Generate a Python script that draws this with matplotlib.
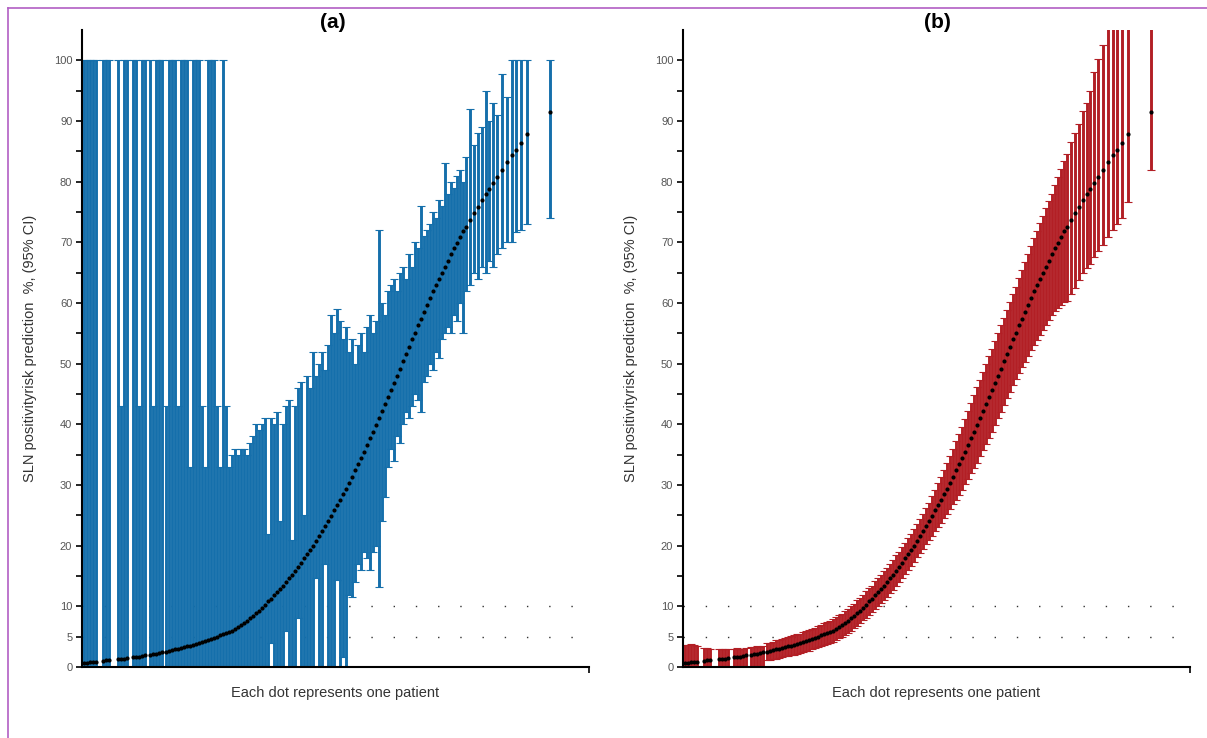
import numpy as np
import matplotlib
matplotlib.use('Agg')
import matplotlib.pyplot as plt
from matplotlib.lines import Line2D

plt.rcParams['font.family'] = ['Liberation Sans', 'DejaVu Sans']

## Data: one entry per patient, x = position along the axis (sorted by risk)
x = [2, 5, 8, 11, 14, 21, 24, 27, 36, 39,
     42, 45, 51, 54, 57, 60, 63, 68, 71, 74,
     77, 80, 84, 87, 90, 93, 96, 99, 102, 105,
     108, 111, 114, 117, 120, 123, 126, 129, 132, 135,
     138, 141, 144, 147, 150, 153, 156, 159, 162, 165,
     168, 171, 174, 177, 180, 183, 186, 189, 192, 195,
     198, 201, 204, 207, 210, 213, 216, 219, 222, 225,
     228, 231, 234, 237, 240, 243, 246, 249, 252, 255,
     258, 261, 264, 267, 270, 273, 276, 279, 282, 285,
     288, 291, 294, 297, 300, 303, 306, 309, 312, 315,
     318, 321, 324, 327, 330, 333, 336, 339, 342, 345,
     348, 351, 354, 357, 360, 363, 366, 369, 372, 375,
     378, 381, 384, 388, 392, 396, 400, 404, 407, 411,
     415, 420, 425, 430, 434, 439, 445, 468]

# predicted risk (%) - same model in both panels
pred = [0.7, 0.7, 0.8, 0.8, 0.9, 1.0, 1.1, 1.1, 1.3, 1.4,
        1.4, 1.5, 1.6, 1.7, 1.7, 1.8, 1.9, 2.0, 2.1, 2.2,
        2.3, 2.4, 2.5, 2.6, 2.8, 2.9, 3.0, 3.1, 3.3, 3.4,
        3.5, 3.6, 3.8, 3.9, 4.1, 4.3, 4.4, 4.6, 4.8, 5.0,
        5.2, 5.4, 5.6, 5.8, 6.0, 6.3, 6.6, 6.9, 7.2, 7.6,
        8.0, 8.4, 8.9, 9.3, 9.8, 10.3, 10.8, 11.2, 11.8, 12.3,
        12.8, 13.4, 14.0, 14.6, 15.2, 15.9, 16.5, 17.2, 17.9, 18.6,
        19.3, 20.0, 20.8, 21.6, 22.4, 23.2, 24.0, 24.9, 25.8, 26.7,
        27.6, 28.5, 29.4, 30.4, 31.4, 32.4, 33.4, 34.4, 35.5, 36.6,
        37.7, 38.8, 39.9, 41.0, 42.2, 43.3, 44.5, 45.6, 46.8, 48.0,
        49.2, 50.4, 51.6, 52.8, 54.0, 55.1, 56.3, 57.4, 58.5, 59.6,
        60.8, 61.9, 62.9, 64.0, 65.0, 66.0, 67.0, 68.0, 69.0, 69.9,
        70.9, 71.8, 72.6, 73.7, 74.8, 75.9, 77.0, 78.0, 78.8, 79.8,
        80.8, 82.0, 83.2, 84.4, 85.3, 86.4, 87.8, 91.5]

# panel (a) 95% CI
a_lo = [0, 0, 0, 0, 0, 0, 0, 0, 0, 0,
        0, 0, 0, 0, 0, 0, 0, 0, 0, 0,
        0, 0, 0, 0, 0, 0, 0, 0, 0, 0,
        0, 0, 0, 0, 0, 0, 0, 0, 0, 0,
        0, 0, 0, 0, 0, 0, 0, 0, 0, 0,
        0, 0, 0, 0, 0, 0, 0, 4, 0, 0,
        0, 0, 6, 0, 0, 0, 8, 0, 0, 0,
        0, 0, 14.6, 0, 0, 17, 0, 0, 0, 14.3,
        0, 1.6, 0, 11.9, 11.5, 14, 17, 16, 19, 18,
        16, 19, 20, 13.2, 24, 28, 33, 36, 34, 38,
        37, 40, 42, 41, 43, 45, 44, 42, 47, 48,
        50, 49, 52, 51, 54, 55, 56, 55, 58, 57,
        60, 55, 62, 63, 65, 64, 66, 65, 67, 66,
        68, 69, 70, 70, 71.7, 72, 73, 74]
a_hi = [100, 100, 100, 100, 100, 100, 100, 100, 100, 43,
        100, 100, 100, 100, 43, 100, 100, 100, 43, 100,
        100, 100, 43, 100, 100, 100, 43, 100, 100, 100,
        33, 100, 100, 100, 43, 33, 100, 100, 100, 43,
        33, 100, 43, 33, 35, 36, 35, 36, 36, 35,
        37, 38, 40, 39, 40, 41, 22, 41, 40, 42,
        24, 40, 43, 44, 21, 43, 46, 47, 25, 48,
        46, 52, 48, 50, 52, 49, 53, 58, 55, 59,
        57, 54, 56, 52, 54, 50, 53, 55, 52, 56,
        58, 55, 57, 72, 60, 58, 62, 63, 64, 62,
        65, 66, 64, 68, 66, 70, 69, 76, 71, 72,
        73, 75, 74, 77, 76, 83, 78, 80, 79, 81,
        82, 80, 84, 92, 86, 88, 89, 95, 90, 93,
        91, 97.8, 94, 100, 100, 100, 100, 100]

# panel (b) 95% CI
b_lo = [0, 0, 0, 0, 0, 0, 0, 0, 0, 0,
        0, 0, 0, 0, 0, 0, 0, 0, 0, 0,
        0, 0, 1.1, 1.2, 1.4, 1.4, 1.5, 1.6, 1.8, 1.8,
        1.9, 2.0, 2.2, 2.3, 2.5, 2.6, 2.7, 2.9, 3.1, 3.3,
        3.4, 3.6, 3.8, 4.0, 4.1, 4.4, 4.7, 5.0, 5.2, 5.6,
        6.0, 6.4, 6.8, 7.2, 7.7, 8.1, 8.6, 9.0, 9.5, 10.0,
        10.5, 11.0, 11.6, 12.2, 12.7, 13.4, 14.0, 14.6, 15.3, 16.0,
        16.6, 17.3, 18.1, 18.8, 19.5, 20.2, 20.9, 21.6, 22.4, 23.1,
        23.8, 24.5, 25.2, 26.0, 26.8, 27.6, 28.4, 29.2, 30.1, 31.0,
        31.9, 32.8, 33.7, 34.7, 35.7, 36.7, 37.8, 38.8, 39.9, 41.0,
        42.1, 43.2, 44.3, 45.4, 46.5, 47.5, 48.5, 49.4, 50.3, 51.2,
        52.2, 53.1, 53.9, 54.8, 55.6, 56.4, 57.2, 58.0, 58.6, 59.1,
        59.7, 60.2, 60.3, 61.5, 62.5, 63.8, 64.9, 65.8, 66.5, 67.5,
        68.5, 69.5, 70.8, 72.0, 73.0, 74.0, 76.6, 82.0]
b_hi = [3.6, 3.7, 3.8, 3.6, 3.5, 3.1, 3.1, 3.0, 3.0, 2.9,
        3.0, 3.0, 3.0, 3.1, 3.0, 3.0, 3.1, 3.3, 3.3, 3.4,
        3.3, 3.4, 3.9, 4.0, 4.2, 4.4, 4.5, 4.6, 4.8, 5.0,
        5.1, 5.2, 5.4, 5.5, 5.7, 6.0, 6.1, 6.3, 6.5, 6.7,
        7.0, 7.2, 7.4, 7.6, 7.9, 8.2, 8.5, 8.8, 9.2, 9.6,
        10.0, 10.4, 11.0, 11.4, 11.9, 12.5, 13.0, 13.4, 14.1, 14.6,
        15.1, 15.8, 16.4, 17.0, 17.7, 18.4, 19.0, 19.8, 20.5, 21.2,
        22.0, 22.7, 23.5, 24.4, 25.3, 26.2, 27.1, 28.2, 29.2, 30.3,
        31.4, 32.5, 33.6, 34.8, 36.0, 37.2, 38.4, 39.6, 40.9, 42.2,
        43.5, 44.8, 46.1, 47.3, 48.7, 49.9, 51.2, 52.4, 53.7, 55.0,
        56.3, 57.6, 58.9, 60.2, 61.5, 62.7, 64.1, 65.4, 66.7, 68.0,
        69.4, 70.7, 71.9, 73.2, 74.4, 75.6, 76.8, 78.0, 79.4, 80.7,
        82.1, 83.4, 84.5, 86.5, 88.0, 89.5, 91.6, 93.0, 95.0, 98.0,
        100.3, 102.5, 106, 106, 106, 106, 106, 106]

titles = ['(a)', '(b)']
ytick_vals = [0, 5, 10, 15, 20, 25, 30, 35, 40, 45, 50,
              55, 60, 65, 70, 75, 80, 85, 90, 95, 100]
ytick_labels = ['0', '5', '10', '', '20', '', '30', '', '40', '', '50',
                '', '60', '', '70', '', '80', '', '90', '', '100']
ylab = 'SLN positivityrisk prediction  %, (95% CI)'
xlab = 'Each dot represents one patient'

## Figure
W, H = 1207, 738
fig = plt.figure(figsize=(W / 100, H / 100), dpi=100)

panels = [(a_lo, a_hi, '#156fab', 82), (b_lo, b_hi, '#b21f25', 683)]
title_x = [333, 937]

xs = np.array(x, dtype=float)
ps = np.array(pred, dtype=float)

for i, (lo, hi, col, left) in enumerate(panels):
    ax = fig.add_axes([left / W, 1 - 667 / H, 507 / W, 637 / H])
    lo = np.array(lo, dtype=float)
    hi = np.array(hi, dtype=float)

    # dotted reference lines at 5 % and 10 %
    for yv in (5, 10):
        ax.axhline(yv, color='#333333', lw=1.0, ls=(0, (1, 15)), zorder=1)

    ax.errorbar(xs, ps, yerr=[ps - lo, hi - ps], fmt='none', ecolor=col,
                elinewidth=2.1, capsize=2.6, capthick=0.8, zorder=2)
    ax.plot(xs, ps, 'o', color='black', ms=3.0, mew=0, zorder=3)

    ax.set_xlim(0, 507)
    ax.set_ylim(0, 105)
    ax.set_yticks(ytick_vals)
    ax.set_yticklabels(ytick_labels)
    ax.set_xticks([507])
    ax.set_xticklabels([''])
    ax.tick_params(axis='y', length=4, width=1.2, labelsize=8,
                   labelcolor='#555555', pad=3)
    ax.tick_params(axis='x', length=4, width=1.2)

    for s in ('top', 'right'):
        ax.spines[s].set_visible(False)
    for s in ('left', 'bottom'):
        ax.spines[s].set_linewidth(1.5)
        ax.spines[s].set_zorder(5)

    ax.set_ylabel(ylab, fontsize=10.5, color='#333333', labelpad=12)
    ax.set_xlabel(xlab, fontsize=10.5, color='#333333', labelpad=6)

    fig.text(title_x[i] / W, 1 - 22 / H, titles[i], ha='center', va='center',
             fontsize=15, fontweight='bold')

# purple frame (top and left edge)
fig.add_artist(Line2D([8 / W, 1], [1 - 8 / H, 1 - 8 / H], transform=fig.transFigure,
                      color='#b25fc4', lw=1.2))
fig.add_artist(Line2D([8 / W, 8 / W], [0, 1 - 8 / H], transform=fig.transFigure,
                      color='#b25fc4', lw=1.2))

fig.savefig('out.png', dpi=100)
